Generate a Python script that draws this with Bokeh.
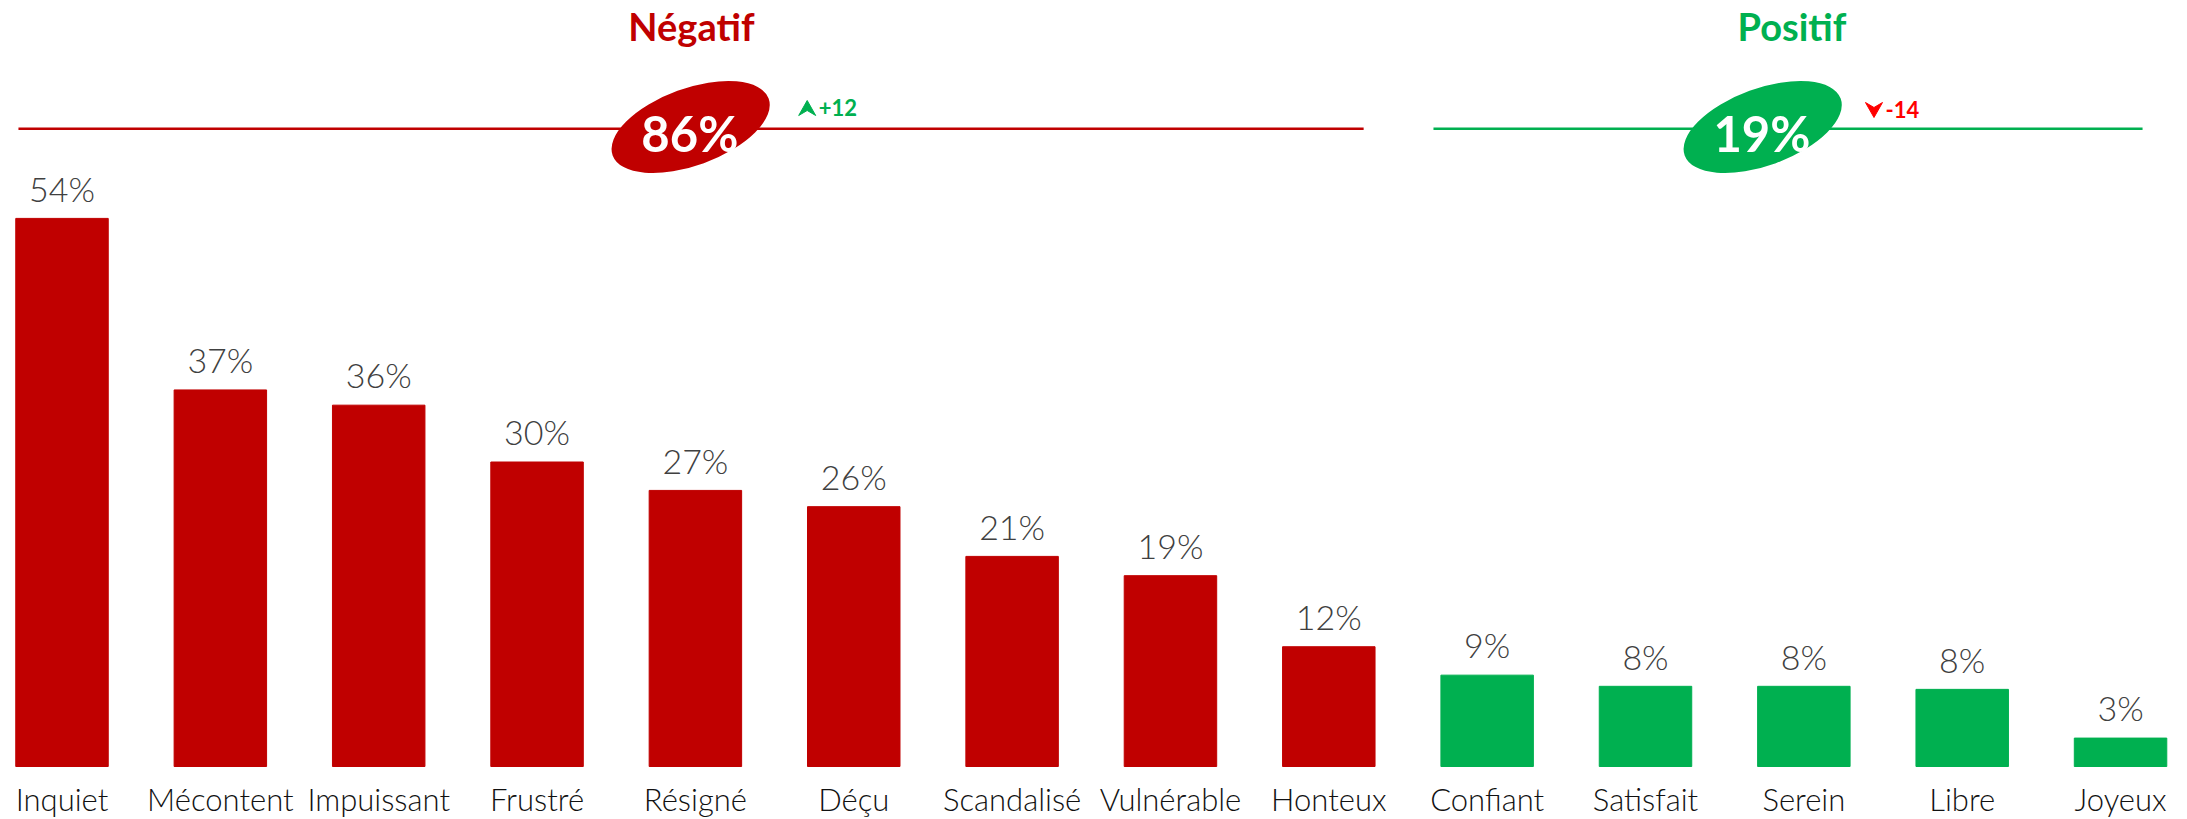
from bokeh.plotting import figure
from bokeh.models import ColumnDataSource
from bokeh.core.properties import value
from bokeh.embed import file_html
from bokeh.resources import INLINE

# ---------------- data ----------------
categories = ["Inquiet", "Mécontent", "Impuissant", "Frustré", "Résigné", "Déçu",
              "Scandalisé", "Vulnérable", "Honteux",
              "Confiant", "Satisfait", "Serein", "Libre", "Joyeux"]
values = [54.0, 37.1, 35.6, 30.0, 27.2, 25.6, 20.7, 18.8, 11.8,
          9.0, 7.9, 7.9, 7.6, 2.8]
groups = ["Négatif"] * 9 + ["Positif"] * 5
group_names = ["Négatif", "Positif"]
group_totals = ["86%", "19%"]
group_changes = ["+12", "-14"]
group_change_dir = ["up", "down"]

RED = "#C00000"
GREEN = "#00B050"
colors = {"Négatif": RED, "Positif": GREEN}
change_colors = {"up": GREEN, "down": "#FF0000"}

LIGHT = "Lato Light, Lato"
BOLD = "Lato"

# ---------------- figure ----------------
W, H = 2187, 819
PX_X = 158.35               # pixels per category step
PX_Y = 10.15                # pixels per percentage point
ORIGIN_X, BASE_Y = 61.5, 766.0
X0 = -ORIGIN_X / PX_X
Y0 = -(H - BASE_Y) / PX_Y
p = figure(width=W, height=H, output_backend="svg", toolbar_location=None,
           x_range=(X0, X0 + W / PX_X), y_range=(Y0, Y0 + H / PX_Y),
           x_axis_location=None, y_axis_location=None, min_border=0,
           outline_line_color=None)
p.title.visible = False
p.xgrid.visible = False
p.ygrid.visible = False

SHIFT = 0.36   # compensation for the SVG text baseline placement


def ydata(px):
    return (BASE_Y - px) / PX_Y


def ytext(baseline_px, font_px):
    return ydata(baseline_px - SHIFT * font_px)


def dx(px):
    return px / PX_X


def dy(px):
    return px / PX_Y


xs = list(range(len(categories)))
src = ColumnDataSource(dict(
    x=xs, top=values, cat=categories,
    color=[colors[g] for g in groups],
    label=[f"{round(v)}%" for v in values],
    label_y=[v + dy(18 + SHIFT * 34) for v in values],
    cat_y=[ytext(810, 31)] * len(values),
))

p.vbar(x="x", top="top", bottom=0, width=0.584, color="color", source=src)
p.text(x="x", y="label_y", text="label", source=src, text_align="center",
       text_baseline="alphabetic", text_font=value(LIGHT),
       text_font_size="34px", text_color="#404040")
p.text(x="x", y="cat_y", text="cat", source=src, text_align="center",
       text_baseline="alphabetic", text_font=value(LIGHT),
       text_font_size="31px", text_color="#111111")

# ---------------- group headers ----------------
line_y = ydata(128.3)
bubble_y = ydata(126.5)
for gi, g in enumerate(group_names):
    idx = [i for i, gg in enumerate(groups) if gg == g]
    first, last = idx[0], idx[-1]
    center = (first + last) / 2
    col = colors[g]
    if gi == 0:
        lx0, lx1 = first - 0.275, last + 0.22
        bx = center - 0.03
        hx = center - 0.025
        ax = bx + 0.736
    else:
        lx0, lx1 = first - 0.339, last + 0.139
        bx = center - 0.26
        hx = center - 0.075
        ax = bx + 0.703
    p.segment(x0=[lx0], y0=[line_y], x1=[lx1], y1=[line_y],
              line_color=col, line_width=2.5)
    p.text(x=[hx], y=[ytext(39, 38)], text=[g], text_align="center",
           text_baseline="alphabetic", text_font=value(BOLD),
           text_font_style="bold", text_font_size="38px", text_color=col)
    p.ellipse(x=[bx], y=[bubble_y], width=166, height=77,
              width_units="screen", height_units="screen",
              angle=20, angle_units="deg", fill_color=col, line_color=None)
    p.text(x=[bx - 0.005], y=[ytext(150, 49)], text=[group_totals[gi]],
           text_align="center", text_baseline="alphabetic",
           text_font=value(BOLD), text_font_style="bold",
           text_font_size="49px", text_color="white")
    # change indicator: notched arrow head + value
    d = group_change_dir[gi]
    ccol = change_colors[d]
    if d == "up":
        tip, base, notch, txt_base = 100, 115, 110, 115
    else:
        tip, base, notch, txt_base = 117, 102, 107, 117
    p.patch(x=[ax, ax + dx(8.5), ax, ax - dx(8.5)],
            y=[ydata(tip), ydata(base), ydata(notch), ydata(base)],
            fill_color=ccol, line_color=ccol, line_width=1)
    p.text(x=[ax + dx(11.5)], y=[ytext(txt_base, 22)], text=[group_changes[gi]],
           text_align="left", text_baseline="alphabetic",
           text_font=value(BOLD), text_font_style="bold",
           text_font_size="22px", text_color=ccol)

open("out.html", "w").write(file_html(p, INLINE))
